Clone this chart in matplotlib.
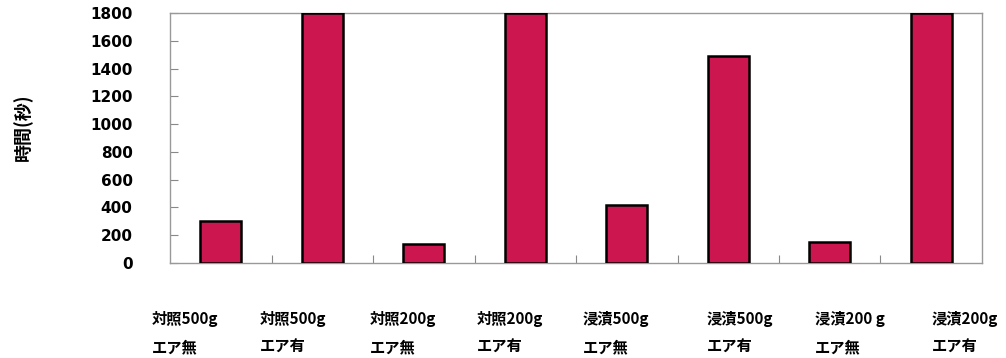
import matplotlib.pyplot as plt
import numpy as np

plt.rcParams['font.family'] = ['Noto Sans CJK JP', 'DejaVu Sans']

groups = ['対照500g', '対照500g', '対照200g', '対照200g',
          '浸漬500g', '浸漬500g', '浸漬200 g', '浸漬200g']
air = ['エア無', 'エア有', 'エア無', 'エア有',
       'エア無', 'エア有', 'エア無', 'エア有']
seconds = [305, 1800, 135, 1800, 415, 1490, 150, 1800]
yticks = [0, 200, 400, 600, 800, 1000, 1200, 1400, 1600, 1800]

# label left edges in figure px (hand placed in the original)
label_px = [152, 260, 370, 477, 583, 707, 815, 932]

W, H = 1006, 358
fig = plt.figure(figsize=(W / 100, H / 100), dpi=100)
ax = fig.add_axes([170 / W, 1 - 263 / H, 812 / W, 250 / H])

x = np.arange(len(seconds))
ax.bar(x, seconds, width=0.40, color='#CC1650', edgecolor='black', linewidth=1.8, zorder=3)

ax.set_xlim(-0.5, len(seconds) - 0.5)
ax.set_ylim(0, 1800)
ax.set_yticks(yticks)
ax.set_yticklabels([str(v) for v in yticks], family='DejaVu Sans', fontweight='bold', fontsize=11)
ax.set_xticks(x[:-1] + 0.5)
ax.set_xticklabels([])
ax.tick_params(axis='y', direction='in', length=6, color='#888888', pad=27)
ax.tick_params(axis='x', direction='in', length=6, color='#888888')
for s in ax.spines.values():
    s.set_color('#999999')
    s.set_linewidth(1.0)

fig.text(23 / W, 1 - 127 / H, '時間(秒)', rotation=90, ha='center', va='center',
         fontsize=13, fontweight='bold')

for i in range(len(groups)):
    fig.text(label_px[i] / W, 1 - 319 / H, groups[i], ha='left', va='center',
             fontsize=11, fontweight='bold')
    fig.text(label_px[i] / W, 1 - 347 / H, air[i], ha='left', va='center',
             fontsize=11, fontweight='bold')

fig.savefig('out.png', dpi=100)
